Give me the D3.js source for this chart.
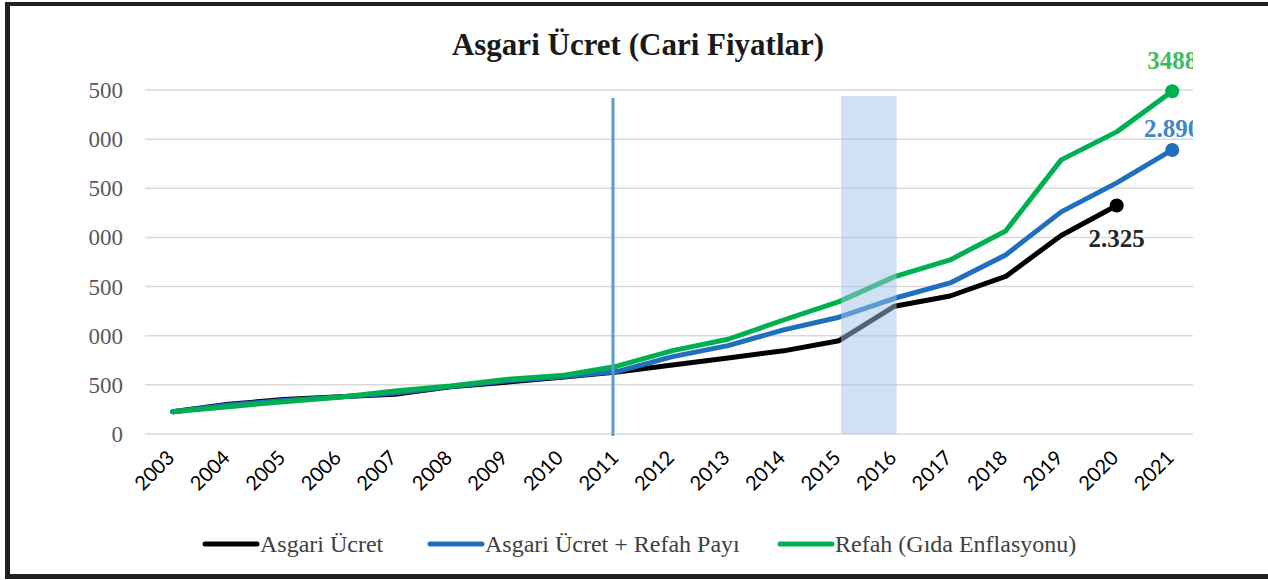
<!DOCTYPE html>
<html>
<head>
<meta charset="utf-8">
<script src="https://cdn.jsdelivr.net/npm/d3@7"></script>
<style>
  body { margin: 0; background: #fff; }
  svg { display: block; }
</style>
</head>
<body>
<svg id="chart" width="1268" height="580"></svg>
<script>
// chart data
var years = ["2003", "2004", "2005", "2006", "2007", "2008", "2009", "2010", "2011", "2012",
    "2013", "2014", "2015", "2016", "2017", "2018", "2019", "2020", "2021"];
var asgari = [226, 303, 350, 380, 405, 481, 527, 577, 630, 701, 774, 846, 949, 1300, 1404, 1603, 2020, 2325, null];
var asgariRefah = [226, 295, 340, 377, 418, 484, 540, 582, 635, 787, 899, 1059, 1188, 1381, 1537, 1822, 2260, 2555, 2890];
var refahGida = [226, 278, 329, 373, 438, 489, 555, 594, 690, 848, 964, 1160, 1347, 1601, 1771, 2066, 2789, 3074, 3488];
var yTicks = [0, 500, 1000, 1500, 2000, 2500, 3000, 3500];
var seriesNames = ["Asgari Ücret", "Asgari Ücret + Refah Payı", "Refah (Gıda Enflasyonu)"];
var endLabels = ["2.325", "2.890", "3488"];

var colors = ["#000000", "#1f6fbd", "#00b050"];
var labelColors = ["#262626", "#3f86c9", "#3dba62"];

var svg = d3.select("#chart");
var serif = "'Liberation Serif', 'DejaVu Serif', serif";

var plotLeft = 145, plotRight = 1200, plotTop = 90, plotBottom = 434, clipRight = 1193;

var x = d3.scalePoint().domain(years).range([plotLeft, plotRight]).padding(0.5);
var y = d3.scaleLinear().domain([0, 3500]).range([plotBottom, plotTop]);

svg.append("defs").append("clipPath").attr("id", "plotClip")
    .append("rect").attr("x", 0).attr("y", 0).attr("width", clipRight).attr("height", 580);
svg.select("defs").append("clipPath").attr("id", "yClip")
    .append("rect").attr("x", 89).attr("y", 0).attr("width", 200).attr("height", 580);

// frame edges
svg.append("rect").attr("x", 5).attr("y", 2).attr("width", 1263).attr("height", 4).attr("fill", "#231f20");
svg.append("rect").attr("x", 5).attr("y", 2).attr("width", 5).attr("height", 577).attr("fill", "#231f20");
svg.append("rect").attr("x", 5).attr("y", 574).attr("width", 1263).attr("height", 5).attr("fill", "#231f20");

svg.append("text")
    .attr("x", 638).attr("y", 55)
    .attr("text-anchor", "middle")
    .style("font-family", serif).style("font-weight", "bold").style("font-size", "31px")
    .attr("fill", "#1a1a1a")
    .text("Asgari Ücret (Cari Fiyatlar)");

var plot = svg.append("g").attr("clip-path", "url(#plotClip)");

// gridlines
plot.append("g").selectAll("line").data(yTicks).enter().append("line")
    .attr("x1", plotLeft).attr("x2", plotRight)
    .attr("y1", function (d) { return y(d); })
    .attr("y2", function (d) { return y(d); })
    .attr("stroke", "#d9d9d9").attr("stroke-width", 1.5);

// y labels (left side cut off like the source)
svg.append("g").attr("clip-path", "url(#yClip)")
    .selectAll("text").data(yTicks).enter().append("text")
    .attr("x", 123)
    .attr("y", function (d) { return y(d) + 8; })
    .attr("text-anchor", "end")
    .style("font-family", serif).style("font-size", "23px")
    .attr("fill", "#595959")
    .text(function (d) { return d; });

// x labels
svg.append("g").selectAll("text").data(years).enter().append("text")
    .attr("transform", function (d) { return "translate(" + (x(d) + 3) + "," + 459 + ") rotate(-45)"; })
    .attr("text-anchor", "end")
    .style("font-family", "Lato, 'Open Sans', sans-serif").style("font-size", "20px")
    .attr("fill", "#000")
    .text(function (d) { return d; });

// series lines
var allSeries = [asgari, asgariRefah, refahGida];
var line = d3.line()
    .defined(function (d) { return d != null; })
    .x(function (d, i) { return x(years[i]); })
    .y(function (d) { return y(d); });

allSeries.forEach(function (s, k) {
    plot.append("path")
        .attr("d", line(s))
        .attr("fill", "none")
        .attr("stroke", colors[k])
        .attr("stroke-width", 5)
        .attr("stroke-linejoin", "round")
        .attr("stroke-linecap", "round");
});

// end dots and value labels
var labelOffsets = [42, -13, -22];
allSeries.forEach(function (s, k) {
    var idx = s.length - 1;
    while (s[idx] == null) idx--;
    var cx = x(years[idx]), cy = y(s[idx]);
    plot.append("circle").attr("cx", cx).attr("cy", cy).attr("r", 7).attr("fill", colors[k]);
    plot.append("text")
        .attr("x", cx).attr("y", cy + labelOffsets[k])
        .attr("text-anchor", "middle")
        .style("font-family", serif).style("font-weight", "bold").style("font-size", "25px")
        .attr("fill", labelColors[k])
        .text(endLabels[k]);
});

// 2011 marker and 2015-2016 band
plot.append("line")
    .attr("x1", x("2011") - 4).attr("x2", x("2011") - 4)
    .attr("y1", 98).attr("y2", plotBottom + 2)
    .attr("stroke", "#5b9bd5").attr("stroke-width", 3);
plot.append("rect")
    .attr("x", x("2015") + 2).attr("width", x("2016") - x("2015"))
    .attr("y", 96).attr("height", plotBottom - 96)
    .attr("fill", "rgba(160,196,230,0.5)");

// legend
var legendX = [205, 430, 780];
var legend = svg.append("g");
seriesNames.forEach(function (name, k) {
    legend.append("line")
        .attr("x1", legendX[k]).attr("x2", legendX[k] + 52)
        .attr("y1", 544).attr("y2", 544)
        .attr("stroke", colors[k]).attr("stroke-width", 5).attr("stroke-linecap", "round");
    legend.append("text")
        .attr("x", legendX[k] + 55).attr("y", 552)
        .style("font-family", serif).style("font-size", "24px")
        .attr("fill", "#404040")
        .text(name);
});
</script>
</body>
</html>
